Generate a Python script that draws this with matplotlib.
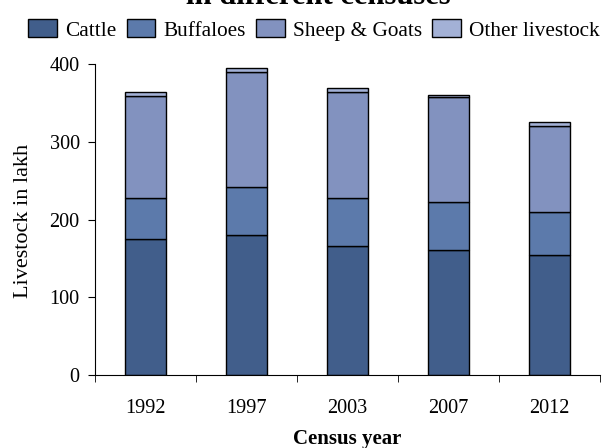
import matplotlib
matplotlib.use("Agg")
import matplotlib.pyplot as plt
import numpy as np

# values (lakh)
years = ["1992", "1997", "2003", "2007", "2012"]
cattle = [175, 180, 166, 161, 154]
buffaloes = [53, 62, 62, 62, 56]
sheep_goats = [131, 148, 136, 134, 110]
other = [5, 5, 5, 3, 5.5]

series_names = ["Cattle", "Buffaloes", "Sheep & Goats", "Other livestock"]
colors = ["#415E8B", "#5C7AAB", "#8292BF", "#A3B1D6"]

plt.rcParams["font.family"] = ["Liberation Serif", "DejaVu Serif"]

W, H = 603, 448
fig = plt.figure(figsize=(W / 100, H / 100), dpi=100)
ax = fig.add_axes([95 / W, 1 - 375 / H, 505 / W, 311 / H])

x = np.arange(len(years))
bottom = np.zeros(len(years))
handles = []
for name, vals, col in zip(series_names, [cattle, buffaloes, sheep_goats, other], colors):
    b = ax.bar(x, vals, width=0.41, bottom=bottom, color=col, edgecolor="black",
               linewidth=1.0, label=name)
    handles.append(b)
    bottom += np.array(vals)

ax.set_xlim(-0.5, len(years) - 0.5)
ax.set_ylim(0, 400)
ax.set_yticks([0, 100, 200, 300, 400])
ax.set_xticks(x)
ax.set_xticklabels(years)
ax.set_xticks(np.arange(-0.5, len(years)), minor=True)
ax.tick_params(axis="x", which="major", length=0, pad=17, labelsize=14.6)
ax.tick_params(axis="x", which="minor", length=5, direction="out")
ax.tick_params(axis="y", length=5, direction="out", pad=6, labelsize=14.6)
for s in ["top", "right"]:
    ax.spines[s].set_visible(False)

fig.text(24 / W, 1 - 221 / H, "Livestock in lakh", rotation=90, ha="center",
         va="center", fontsize=16)
fig.text(347 / W, 1 - 444 / H, "Census year", ha="center", va="baseline",
         fontsize=15, fontweight="bold")

# title is partly clipped at the top edge, as in the reference
fig.text(318 / W, 1 - 4 / H, "in different censuses", ha="center", va="baseline",
         fontsize=22, fontweight="bold")

fig.legend(handles=handles, labels=series_names, loc="center", ncol=4,
           bbox_to_anchor=(314 / W, 1 - 30 / H), frameon=False, fontsize=15.3,
           handlelength=1.36, handleheight=0.9, handletextpad=0.38,
           columnspacing=0.47, borderpad=0, borderaxespad=0)

fig.savefig("out.png", dpi=100)
